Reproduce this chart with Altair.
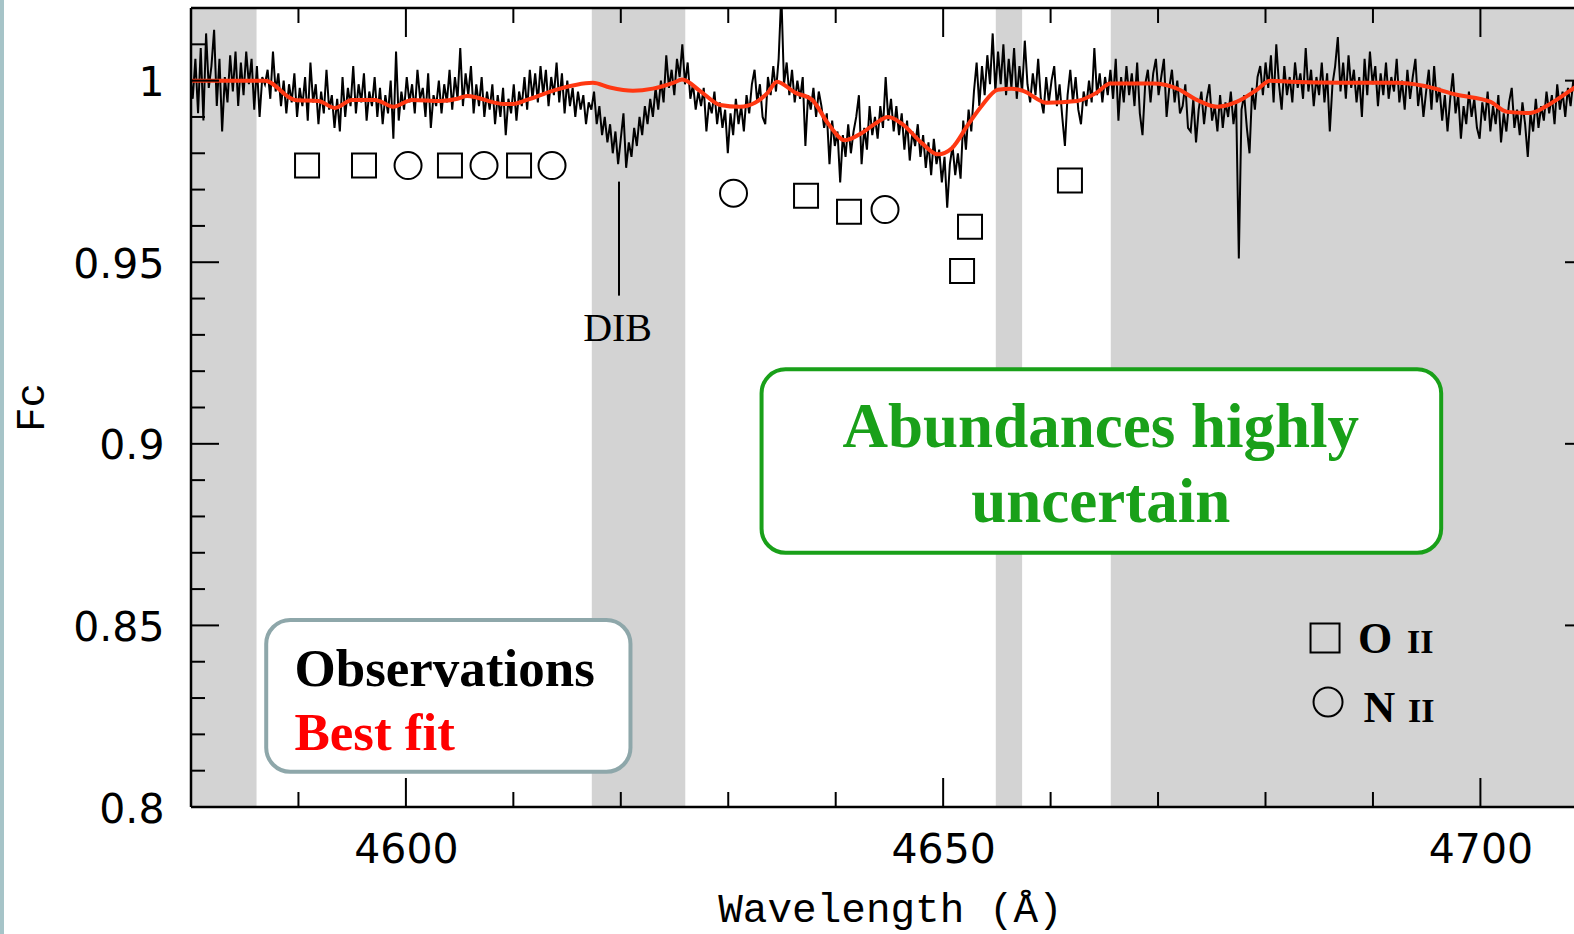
import altair as alt
import pandas as pd

# ---------------- data ----------------
obs_start = 4579.91  # first wavelength of the observed spectrum (Angstrom)
obs_step = 0.249     # sampling step of the observed spectrum
obs_flux = [
    1.002, 0.995, 1.006, 0.991, 1.009, 0.989, 1.013, 0.998, 1.004, 1.014,
    0.993, 1.006, 0.986, 1.001, 0.994, 1.007, 0.997, 1.008, 0.993, 1.005,
    0.996, 1.008, 0.999, 1.006, 0.992, 1.004, 0.990, 1.001, 0.999, 1.003,
    0.995, 1.008, 0.997, 1.002, 0.993, 1.000, 0.991, 0.999, 0.994, 1.002,
    0.990, 0.998, 0.993, 1.001, 0.989, 1.005, 0.994, 0.999, 0.988, 0.997,
    0.991, 1.003, 0.992, 0.996, 0.987, 0.995, 0.986, 1.001, 0.990, 0.998,
    0.993, 1.004, 0.991, 0.999, 0.994, 1.002, 0.989, 0.997, 0.993, 1.001,
    0.990, 0.998, 0.988, 0.996, 0.991, 1.000, 0.984, 1.008, 0.989, 0.997,
    0.992, 1.001, 0.994, 0.999, 0.991, 1.003, 0.995, 0.998, 0.990, 1.002,
    0.987, 0.996, 0.993, 1.000, 0.991, 0.999, 0.994, 1.003, 0.992, 1.001,
    0.995, 1.009, 0.993, 1.002, 0.996, 1.004, 0.991, 0.999, 0.993, 1.001,
    0.990, 0.997, 0.992, 0.999, 0.988, 0.996, 0.990, 0.998, 0.985, 0.995,
    0.991, 0.999, 0.989, 0.997, 0.993, 1.001, 0.992, 1.003, 0.995, 1.002,
    0.994, 1.004, 0.996, 1.003, 0.993, 1.001, 0.996, 1.005, 0.994, 1.002,
    0.991, 1.000, 0.993, 0.998, 0.990, 0.997, 0.992, 0.996, 0.988, 0.994,
    0.992, 0.997, 0.988, 0.993, 0.985, 0.990, 0.983, 0.988, 0.980, 0.986,
    0.977, 0.984, 0.991, 0.976, 0.983, 0.979, 0.987, 0.982, 0.990, 0.985,
    0.993, 0.988, 0.995, 0.990, 0.998, 0.992, 1.000, 0.994, 1.007, 0.998,
    1.003, 0.996, 1.006, 1.001, 1.010, 0.999, 1.005, 0.995, 0.999, 0.992,
    0.997, 0.993, 0.998, 0.986, 0.994, 0.991, 0.997, 0.988, 0.994, 0.987,
    0.992, 0.980, 0.991, 0.985, 0.995, 0.988, 0.993, 0.986, 0.996, 0.991,
    0.999, 1.003, 0.994, 0.999, 0.990, 0.988, 1.001, 0.996, 1.004, 0.997,
    1.006, 1.024, 0.999, 1.005, 0.996, 1.003, 0.994, 1.000, 0.995, 1.001,
    0.982, 0.996, 0.992, 0.998, 0.990, 0.997, 0.993, 0.987, 0.991, 0.977,
    0.989, 0.982, 0.986, 0.972, 0.985, 0.979, 0.988, 0.980, 0.986, 0.990,
    0.996, 0.977, 0.987, 0.981, 0.993, 0.985, 0.990, 0.984, 0.993, 0.987,
    1.001, 0.989, 0.995, 0.986, 0.993, 0.985, 0.991, 0.981, 0.989, 0.978,
    0.986, 0.982, 0.988, 0.979, 0.985, 0.976, 0.983, 0.974, 0.984, 0.977,
    0.981, 0.972, 0.979, 0.965, 0.977, 0.982, 0.974, 0.980, 0.973, 0.989,
    0.981, 0.992, 0.986, 0.997, 1.005, 0.993, 1.004, 0.996, 1.007, 0.999,
    1.013, 0.997, 1.008, 0.999, 1.010, 0.996, 1.006, 0.998, 1.009, 0.995,
    1.004, 0.997, 1.011, 0.999, 0.994, 1.002, 0.996, 1.006, 0.995, 0.991,
    1.001, 0.994, 1.000, 1.004, 0.993, 0.999, 0.990, 0.982, 0.996, 1.003,
    0.994, 1.001, 0.992, 0.988, 0.997, 0.993, 1.000, 0.994, 1.009, 0.996,
    1.002, 0.994, 1.001, 0.996, 1.003, 0.995, 1.006, 0.989, 1.001, 0.994,
    1.004, 0.996, 1.002, 0.993, 1.005, 0.991, 0.985, 0.999, 1.003, 0.994,
    1.002, 1.006, 0.996, 1.001, 1.006, 0.990, 0.998, 1.003, 0.994, 1.000,
    0.991, 0.993, 0.999, 0.987, 0.986, 0.995, 0.983, 0.992, 0.997, 0.988,
    0.995, 0.999, 0.989, 0.993, 0.986, 0.996, 0.987, 0.994, 0.990, 0.997,
    0.988, 0.994, 0.951, 0.992, 0.996, 0.987, 0.980, 0.998, 0.992, 1.001,
    1.004, 0.996, 1.005, 0.998, 1.007, 0.994, 1.010, 0.999, 0.992, 1.004,
    0.996, 1.001, 0.994, 1.005, 0.998, 1.002, 0.995, 1.009, 0.997, 1.003,
    0.993, 1.001, 0.996, 1.005, 0.994, 1.002, 0.986, 0.999, 1.004, 1.012,
    0.997, 1.005, 0.995, 1.007, 0.998, 1.003, 0.994, 1.001, 0.990, 1.006,
    0.996, 1.008, 0.999, 1.004, 0.993, 1.002, 0.996, 1.005, 0.995, 1.001,
    0.997, 1.006, 0.994, 1.000, 0.992, 1.003, 0.995, 1.001, 1.006, 0.993,
    0.999, 0.990, 0.997, 1.003, 0.992, 1.004, 0.994, 0.998, 0.989, 0.996,
    0.986, 0.995, 1.002, 0.991, 0.996, 0.984, 0.993, 0.988, 0.997, 0.990,
    0.995, 0.987, 0.984, 0.994, 0.989, 0.997, 0.986, 0.993, 0.988, 0.996,
    0.983, 0.991, 0.986, 0.994, 0.998, 0.987, 0.992, 0.985, 0.994, 0.988,
    0.979, 0.991, 0.986, 0.995, 0.987, 0.993, 0.989, 0.997, 0.991, 0.996,
    0.988, 0.999, 0.992, 0.997, 0.990, 0.998, 0.993, 1.000, 0.995, 0.999,
]

fit_wl = [4579.91, 4586.88, 4589.67, 4591.86, 4593.40, 4594.99, 4597.13, 4598.83, 4600.57,
          4603.21, 4604.80, 4605.70, 4609.03, 4609.98, 4611.27, 4613.66, 4617.40, 4618.99,
          4621.13, 4622.98, 4624.87, 4625.71, 4627.36, 4629.25, 4631.09, 4632.49, 4633.68,
          4634.53, 4636.22, 4637.81, 4639.31, 4640.85, 4642.44, 4643.64, 4644.88, 4646.18,
          4648.02, 4649.51, 4650.81, 4652.30, 4653.60, 4655.09, 4656.39, 4657.43, 4659.67,
          4662.46, 4664.30, 4665.55, 4669.53, 4671.77, 4673.61, 4675.50, 4677.35, 4679.19,
          4680.43, 4682.28, 4686.96, 4692.23, 4694.67, 4697.81, 4700.90, 4702.49, 4704.63,
          4706.48, 4708.62, 4709.86]
fit_flux = [1.0, 1.0, 0.9947, 0.9944, 0.9925, 0.9947, 0.9947, 0.9928, 0.9947,
            0.9944, 0.9950, 0.9958, 0.9936, 0.9936, 0.9947, 0.9972, 0.9994, 0.9981,
            0.9972, 0.9978, 0.9994, 1.0003, 0.9972, 0.9933, 0.9928, 0.9939, 0.9967,
            0.9997, 0.9967, 0.9947, 0.9881, 0.9836, 0.9856, 0.9881, 0.9900, 0.9881,
            0.9828, 0.9797, 0.9814, 0.9878, 0.9931, 0.9975, 0.9978, 0.9972, 0.9939,
            0.9944, 0.9967, 0.9992, 0.9992, 0.9978, 0.9947, 0.9928, 0.9942, 0.9975,
            1.0, 0.9997, 0.9994, 0.9994, 0.9986, 0.9961, 0.9942, 0.9914, 0.9911,
            0.9936, 0.9978, 1.0005]

band_start = [4579.0, 4617.3, 4654.9, 4665.6]
band_end = [4586.1, 4626.0, 4657.35, 4715.0]

oii_wl = [4590.80, 4596.10, 4604.10, 4610.53, 4637.24, 4641.24, 4651.76, 4652.50, 4661.80]
oii_flux = [0.9766, 0.9766, 0.9766, 0.9766, 0.9683, 0.9639, 0.9476, 0.9598, 0.9725]
nii_wl = [4600.20, 4607.27, 4613.60, 4630.49, 4644.59]
nii_flux = [0.9766, 0.9766, 0.9766, 0.9690, 0.9645]

x_labels = [4600, 4650, 4700]
y_labels = [0.8, 0.85, 0.9, 0.95, 1.0]
x_major = [4600, 4650, 4700]
x_minor = [4590, 4610, 4620, 4630, 4640, 4660, 4670, 4680, 4690]
y_major = [0.85, 0.9, 0.95, 1.0]
y_minor = [0.81, 0.82, 0.83, 0.84, 0.86, 0.87, 0.88, 0.89, 0.91, 0.92, 0.93,
           0.94, 0.96, 0.97, 0.98, 0.99, 1.01]

# ---------------- layout ----------------
LEFT, TOP = 191, 8
W, H = 1383, 799
XMIN, XMAX = 4580.0, 4580.0 + 1383 / 10.745
YMIN, YMAX = 0.8, 1.02
xs = alt.Scale(domain=[XMIN, XMAX], nice=False, zero=False)
ys = alt.Scale(domain=[YMIN, YMAX], nice=False, zero=False)

x_axis = alt.Axis(
    values=x_labels, format="d", domain=False, ticks=False, tickSize=0, grid=False,
    labelFont="DejaVu Sans", labelFontSize=41, labelColor="black", labelPadding=23,
    labelFlush=False, labelOverlap=False,
    title="Wavelength (Å)", titleFont="Liberation Mono", titleFontSize=41,
    titleFontWeight="normal", titleColor="black", titleX=699, titleY=114,
    titleAlign="center", titleBaseline="alphabetic")
y_axis = alt.Axis(
    values=y_labels, format="~g", domain=False, ticks=False, tickSize=0, grid=False,
    labelFont="DejaVu Sans", labelFontSize=41, labelColor="black", labelPadding=27,
    labelOffset=3, labelOverlap=False,
    title="Fc", titleFont="Liberation Mono", titleFontSize=41, titleFontWeight="normal",
    titleColor="black", titleX=-148, titleY=399, titleAngle=270,
    titleAlign="center", titleBaseline="alphabetic")


def X(f):
    return alt.X(f, type="quantitative", scale=xs, axis=x_axis)


def Y(f):
    return alt.Y(f, type="quantitative", scale=ys, axis=y_axis)


one = pd.DataFrame({"a": [0]})

strip = alt.Chart(one).mark_rect(color="#a6c4c8").encode(
    x=alt.value(-LEFT), x2=alt.value(-LEFT + 4), y=alt.value(-TOP), y2=alt.value(934))

bands = alt.Chart(pd.DataFrame({"s": band_start, "e": band_end})).mark_rect(
    color="#d3d3d3", clip=True).encode(x=X("s"), x2="e", y=alt.value(0), y2=alt.value(H))

obs_df = pd.DataFrame({"wl": [obs_start + obs_step * i for i in range(len(obs_flux))],
                       "flux": obs_flux})
spec = alt.Chart(obs_df).mark_line(color="black", strokeWidth=2, clip=True).encode(
    x=X("wl"), y=Y("flux"), order="wl:Q")

fit = alt.Chart(pd.DataFrame({"wl": fit_wl, "flux": fit_flux})).mark_line(
    color="#ff3812", strokeWidth=4, interpolate="monotone", clip=True).encode(
    x=X("wl"), y=Y("flux"), order="wl:Q")

sq = alt.Chart(pd.DataFrame({"wl": oii_wl, "flux": oii_flux})).mark_point(
    shape="square", filled=False, color="black", strokeWidth=2, size=576, opacity=1).encode(
    x=X("wl"), y=Y("flux"))
ci = alt.Chart(pd.DataFrame({"wl": nii_wl, "flux": nii_flux})).mark_point(
    shape="circle", filled=False, color="black", strokeWidth=2, size=729, opacity=1).encode(
    x=X("wl"), y=Y("flux"))

dib_line = alt.Chart(pd.DataFrame({"x": [4619.83], "y1": [0.9722], "y2": [0.9408]})).mark_rule(
    color="black", strokeWidth=2).encode(x=X("x"), y=Y("y1"), y2="y2")
dib_txt = alt.Chart(pd.DataFrame({"x": [4619.7], "y": [0.9282], "t": ["DIB"]})).mark_text(
    font="Liberation Serif", fontSize=40, align="center", baseline="alphabetic",
    color="black").encode(x=X("x"), y=Y("y"), text="t:N")

box1 = alt.Chart(pd.DataFrame({"x1": [4587.0], "x2": [4620.9], "y1": [0.8097], "y2": [0.8515]})).mark_rect(
    fill="white", stroke="#8ea7aa", strokeWidth=4, cornerRadius=24).encode(
    x=X("x1"), x2="x2", y=Y("y1"), y2="y2")
box2 = alt.Chart(pd.DataFrame({"x1": [4633.1], "x2": [4696.35], "y1": [0.8700], "y2": [0.9205]})).mark_rect(
    fill="white", stroke="#19a019", strokeWidth=4, cornerRadius=24).encode(
    x=X("x1"), x2="x2", y=Y("y1"), y2="y2")

obs_lbl = alt.Chart(pd.DataFrame({"x": [4589.63], "y": [0.8332], "t": ["Observations"]})).mark_text(
    font="Liberation Serif", fontWeight="bold", fontSize=53, align="left",
    baseline="alphabetic", color="black").encode(x=X("x"), y=Y("y"), text="t:N")
fit_lbl = alt.Chart(pd.DataFrame({"x": [4589.63], "y": [0.8158], "t": ["Best fit"]})).mark_text(
    font="Liberation Serif", fontWeight="bold", fontSize=53, align="left",
    baseline="alphabetic", color="#ff0000").encode(x=X("x"), y=Y("y"), text="t:N")
green = alt.Chart(pd.DataFrame({"x": [4664.67, 4664.67], "y": [0.8992, 0.8785],
                                "t": ["Abundances highly", "uncertain"]})).mark_text(
    font="Liberation Serif", fontWeight="bold", fontSize=63, align="center",
    baseline="alphabetic", color="#19a019").encode(x=X("x"), y=Y("y"), text="t:N")

leg_sq = alt.Chart(pd.DataFrame({"x": [4685.54], "y": [0.84656]})).mark_point(
    shape="square", filled=False, color="black", strokeWidth=2, size=841, opacity=1).encode(
    x=X("x"), y=Y("y"))
leg_ci = alt.Chart(pd.DataFrame({"x": [4685.82], "y": [0.82893]})).mark_point(
    shape="circle", filled=False, color="black", strokeWidth=2, size=841, opacity=1).encode(
    x=X("x"), y=Y("y"))
leg_big = alt.Chart(pd.DataFrame({"x": [4688.61, 4689.12], "y": [0.84242, 0.82342],
                                  "t": ["O", "N"]})).mark_text(
    font="Liberation Serif", fontWeight="bold", fontSize=44, align="left",
    baseline="alphabetic", color="black").encode(x=X("x"), y=Y("y"), text="t:N")
leg_small = alt.Chart(pd.DataFrame({"x": [4693.17, 4693.26], "y": [0.84242, 0.82342],
                                    "t": ["II", "II"]})).mark_text(
    font="Liberation Serif", fontWeight="bold", fontSize=34, align="left",
    baseline="alphabetic", color="black").encode(x=X("x"), y=Y("y"), text="t:N")


def xticks(vals, y0, y1):
    return alt.Chart(pd.DataFrame({"v": vals})).mark_rule(color="black", strokeWidth=2).encode(
        x=X("v"), y=alt.value(y0), y2=alt.value(y1))


def yticks(vals, x0, x1):
    return alt.Chart(pd.DataFrame({"v": vals})).mark_rule(color="black", strokeWidth=2).encode(
        y=Y("v"), x=alt.value(x0), x2=alt.value(x1))


RIGHT = 1402  # the frame's right edge lies just beyond the picture
ticks = [
    xticks(x_minor, H, H - 15), xticks(x_major, H, H - 29),
    xticks(x_minor, 0, 15), xticks(x_major, 0, 29),
    yticks(y_minor, 0, 14), yticks(y_major, 0, 28),
    yticks(y_minor, RIGHT, RIGHT - 14), yticks(y_major, RIGHT, RIGHT - 28),
]

frame = [
    alt.Chart(one).mark_rule(color="black", strokeWidth=2.5).encode(
        x=alt.value(0), y=alt.value(0), y2=alt.value(H)),
    alt.Chart(one).mark_rule(color="black", strokeWidth=2.5).encode(
        x=alt.value(0), x2=alt.value(W + 20), y=alt.value(0)),
    alt.Chart(one).mark_rule(color="black", strokeWidth=2.5).encode(
        x=alt.value(0), x2=alt.value(W + 20), y=alt.value(H)),
]

chart = alt.layer(
    strip, bands, spec, fit, sq, ci, dib_line, dib_txt, box1, box2,
    obs_lbl, fit_lbl, green, leg_sq, leg_ci, leg_big, leg_small, *ticks, *frame
).properties(
    width=W, height=H,
    padding={"left": LEFT, "top": TOP, "right": 0, "bottom": 934 - TOP - H},
    autosize=alt.AutoSizeParams(type="none"),
    background="white",
).configure_view(stroke=None)

chart.save("out.html", embed_options={"renderer": "svg", "actions": False})
